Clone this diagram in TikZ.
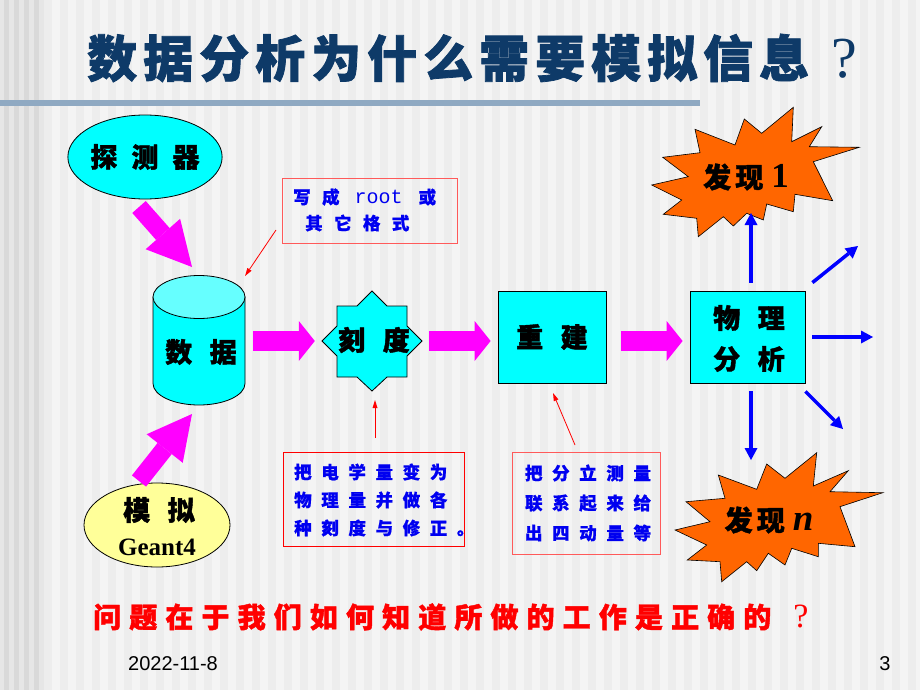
\documentclass[tikz,border=0pt]{standalone}
\usepackage{fontspec}
\setmainfont{Liberation Serif}
\newfontfamily\cjk{Noto Sans CJK SC}
\newfontfamily\ftr{Liberation Sans}
\newfontfamily\mono{Liberation Mono}
\usetikzlibrary{arrows.meta,shapes.geometric}
\definecolor{bgA}{HTML}{F4F4F4}
\definecolor{bgB}{HTML}{EDEDED}
\definecolor{bgL}{HTML}{E6E6E6}
\definecolor{bgLd}{HTML}{D9D9D9}
\definecolor{barblue}{HTML}{8FA9C2}
\definecolor{navy}{HTML}{0E3A68}
\definecolor{burstorange}{HTML}{FF6600}
\definecolor{lightyellow}{HTML}{FFFF99}
\definecolor{topcyan}{HTML}{66FFFF}
\definecolor{pcyan}{HTML}{00FFFF}
\definecolor{pmag}{HTML}{FF00FF}
\definecolor{pblue}{HTML}{0000FF}
\definecolor{pred}{HTML}{FF0000}
\definecolor{notered}{HTML}{FF5A5A}
\definecolor{noteblue}{HTML}{0000F0}
\newcommand\zh[3]{\fontsize{#1}{#1}\cjk\bfseries\addfontfeatures{LetterSpace=#2,FakeBold=1.5}#3}
\begin{document}
\begin{tikzpicture}[x=1pt,y=-1pt,
  fat/.style={draw=pmag, line width=20pt, -{Triangle[length=16pt,width=40pt,line width=0pt]}},
  fatd/.style={draw=pmag, line width=18pt, -{Triangle[length=44pt,width=46pt,line width=0pt]}},
  bluearr/.style={draw=pblue, line width=3.5pt, -{Triangle[length=12pt,width=13pt,line width=0pt]}},
  redarr/.style={draw=pred, line width=0.8pt, -{Triangle[length=8pt,width=5pt,line width=0pt]}},
  burst/.style={fill=burstorange, draw=black, line width=0.6pt, line join=miter},
  cbox/.style={draw=black, fill=pcyan, line width=0.8pt, inner sep=0pt},
  ell/.style={ellipse, draw=black, line width=0.8pt, inner sep=0pt},
  lbl/.style={inner sep=0pt, text=black},
  note/.style={draw=#1, line width=1pt, inner sep=0pt},
  ntxt/.style={inner sep=0pt, text=noteblue, font={\fontsize{17.5}{17.5}\cjk\bfseries\addfontfeatures{LetterSpace=55,FakeBold=0.8}}}
]
\useasboundingbox (0,0) rectangle (920,690);
% background
\fill[bgA] (0,0) rectangle (920,690);
\foreach \i in {0,...,55} {\fill[bgB] (44+16*\i,0) rectangle (52+16*\i,690);}
\fill[bgL] (0,0) rectangle (44,690);
\foreach \i in {0,...,3} {\fill[bgLd] (4+10*\i,0) rectangle (9+10*\i,690);}
% title
\node[inner sep=0pt, text=navy, anchor=west] (title) at (87,58) {\zh{50}{12}{数据分析为什么需要模拟信息}\hspace{22pt}{\rmfamily\mdseries\fontsize{58}{58}\selectfont ?}};
\fill[barblue] (0,100) rectangle (700,106);

% detector ellipse
\node[ell, fill=pcyan, minimum width=154pt, minimum height=84pt] (det) at (145,157) {\zh{27}{52}{探测器}};
% cylinder
\fill[pcyan, draw=black, line width=0.8pt] (153,297) -- (153,383.5) arc[start angle=180,end angle=0,x radius=46,y radius=21.5] -- (245,297) -- cycle;
\draw[fill=topcyan, line width=0.8pt] (199,297) ellipse[x radius=46, y radius=21.5];
\node[lbl, minimum width=92pt, minimum height=130pt] (cyl) at (199,341) {};
\node[lbl] (cyltxt) at (201,352) {\zh{27}{65}{数据}};
% simulation ellipse
\node[ell, fill=lightyellow, minimum width=146pt, minimum height=84pt] (sim) at (157,525) {};
\node[lbl] (simA) at (159,510) {\zh{27}{65}{模拟}};
\node[lbl] (simB) at (157,547) {\fontsize{25}{25}\selectfont\bfseries Geant4};

% calibration star
\draw[cbox] (372,291) -- (387,306) -- (407,306) -- (407,326) -- (422,341) -- (407,356) -- (407,377) -- (387,377) -- (372,391) -- (357,377) -- (337,377) -- (337,356) -- (322,341) -- (337,326) -- (337,306) -- (357,306) -- cycle;
\node[lbl, minimum width=100pt, minimum height=100pt] (kd) at (372,341) {};
\node[lbl] (kdtxt) at (374,340) {\zh{27}{65}{刻度}};
% reconstruction
\node[cbox, minimum width=108pt, minimum height=92pt] (rec) at (552,337) {\zh{27}{65}{重建}};
% physics analysis
\node[cbox, minimum width=115pt, minimum height=92pt] (phy) at (747.5,337) {};
\node[lbl] (phyA) at (749,318) {\zh{27}{65}{物理}};
\node[lbl] (phyB) at (749,359) {\zh{27}{65}{分析}};

% magenta arrows
\coordinate (a1s) at (139,207);
\coordinate (a1e) at (192,267);
\coordinate (a2s) at (139,481);
\coordinate (a2e) at (192,414);
\draw[fatd] (a1s) -- (a1e);
\draw[fatd] (a2s) -- (a2e);
\draw[fat, shorten <=8pt, shorten >=7pt] (cyl.east) -- (kd.west);
\draw[fat, shorten <=7pt, shorten >=7pt] (kd.east) -- ([yshift=-4pt]rec.west);
\draw[fat, shorten <=15pt, shorten >=7pt] ([yshift=-4pt]rec.east) -- ([yshift=-4pt]phy.west);

% bursts
\draw[burst] (859.3,147.3) -- (813.3,161.7) -- (832.7,200.7) -- (795,194.3) -- (793.3,211.7) -- (766.7,204) -- (763.3,220) -- (746.7,213.3) -- (733.3,226) -- (723.3,216.7) -- (698.3,236.7) -- (696.7,218.3) -- (663.3,214.3) -- (681.7,200) -- (651.7,185) -- (688.3,176.7) -- (662.7,157.3) -- (700,152.7) -- (695,129.3) -- (735,145) -- (744.3,119) -- (761.7,133.3) -- (793.3,107.3) -- (791.7,141.7) -- (821.7,126.7) -- (809.3,146.7) -- cycle;
\node[lbl] (f1) at (746,177) {\zh{28}{15}{发现}\hspace{8pt}{\rmfamily\fontsize{35}{35}\selectfont\bfseries 1}};
\draw[burst] (882.7,492.7) -- (840,506.7) -- (855,546.7) -- (818.3,543.3) -- (818.3,556.7) -- (791.7,548.3) -- (785,565) -- (768.3,553.3) -- (756.7,570.7) -- (746.7,561.7) -- (721.7,581.7) -- (720,561.7) -- (687.3,560) -- (706.7,545) -- (675,530) -- (710,521.7) -- (686,501.7) -- (725,498.3) -- (718.3,475) -- (756.7,489.3) -- (766.7,464) -- (785,478.3) -- (816.7,452.7) -- (813.3,486) -- (848.3,470.7) -- (830,491.7) -- cycle;
\node[lbl] (fn) at (769,520) {\zh{28}{15}{发现}\hspace{8pt}{\rmfamily\fontsize{37}{37}\selectfont\bfseries\itshape n}};

% blue arrows
\coordinate (up1) at (751,213);
\coordinate (dn1) at (751,460);
\coordinate (rt1) at (873,337);
\coordinate (ur1) at (858,246);
\coordinate (dr1) at (843,429);
\draw[bluearr, shorten <=8pt] (phy.north -| up1) -- (up1);
\draw[bluearr, shorten <=8pt] (phy.south -| dn1) -- (dn1);
\draw[bluearr, shorten <=7pt] (phy.east) -- (rt1);
\draw[bluearr] ([shift={(7,-8)}]phy.north east) -- (ur1);
\draw[bluearr] ([shift={(0,8)}]phy.south east) -- (dr1);

% note boxes
\node[note=notered, minimum width=175pt, minimum height=65pt] (n1) at (369.5,210.5) {};
\node[inner sep=0pt, anchor=west, text=noteblue] (n1a) at (293,197)
  {{\fontsize{17.5}{17.5}\cjk\bfseries\addfontfeatures{LetterSpace=65,FakeBold=0.8}写成}\hspace{15pt}{\mono\fontsize{20}{20}\selectfont\mdseries root}\hspace{16pt}{\fontsize{17.5}{17.5}\cjk\bfseries\addfontfeatures{FakeBold=0.8}或}};
\node[ntxt, anchor=west, font={\fontsize{17.5}{17.5}\cjk\bfseries\addfontfeatures{LetterSpace=65,FakeBold=0.8}}] (n1b) at (305,223) {其它格式};

\node[note=pred, minimum width=181pt, minimum height=94pt] (n2) at (373.5,499) {};
\node[ntxt, anchor=west] (n2a) at (294,472) {把电学量变为};
\node[ntxt, anchor=west] (n2b) at (294,500) {物理量并做各};
\node[ntxt, anchor=west] (n2c) at (294,528) {种刻度与修正。};

\node[note=notered, minimum width=148pt, minimum height=102pt] (n3) at (586,503) {};
\node[ntxt] (n3a) at (588,473) {把分立测量};
\node[ntxt] (n3b) at (588,503) {联系起来给};
\node[ntxt] (n3c) at (588,533) {出四动量等};

\coordinate (r1s) at (276,230);
\coordinate (r1e) at (245,276);
\coordinate (r2s) at (375,438);
\coordinate (r2e) at (375,400);
\coordinate (r3s) at (575,445);
\coordinate (r3e) at (553,393);
\draw[redarr] (r1s) -- (r1e);
\draw[redarr] (r2s) -- (r2e);
\draw[redarr] (r3s) -- (r3e);

% question
\node[inner sep=0pt, text=pred, anchor=west] (q) at (93,617) {\zh{28}{29}{问题在于我们如何知道所做的工作是正确的}\hspace{22pt}{\rmfamily\mdseries\fontsize{34}{34}\selectfont ?}};
% footer
\node[inner sep=0pt] (date) at (173,664) {\ftr\fontsize{20}{20}\selectfont 2022-11-8};
\node[inner sep=0pt] (page) at (885,664) {\ftr\fontsize{20}{20}\selectfont 3};
\end{tikzpicture}
\end{document}
